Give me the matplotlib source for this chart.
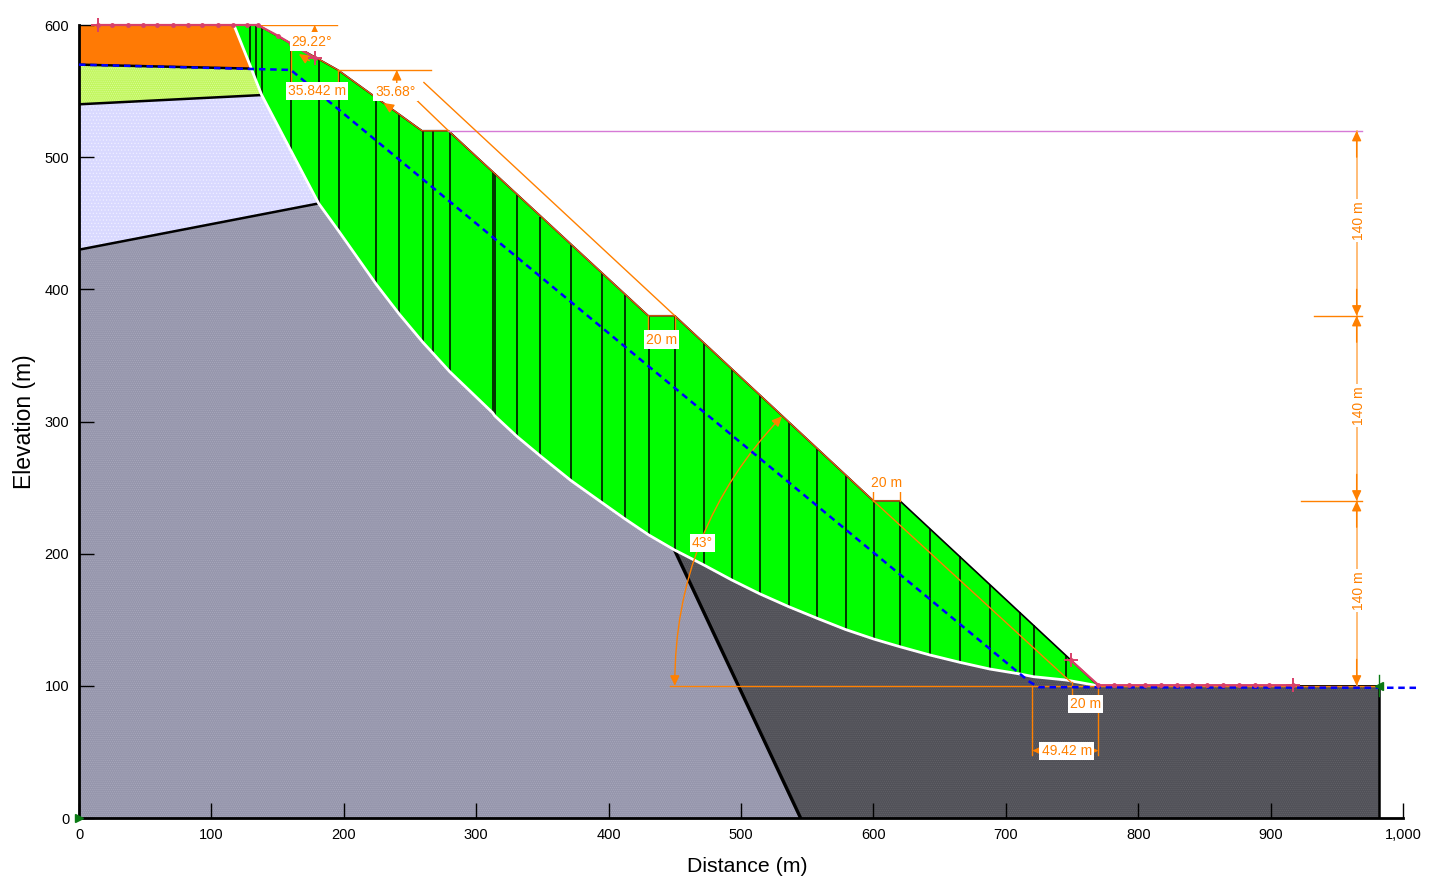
import matplotlib
matplotlib.use('Agg')
import matplotlib.pyplot as plt

plt.rcParams['font.family'] = ['Liberation Sans', 'DejaVu Sans']
plt.rcParams['hatch.linewidth'] = 0.5

# ground surface
ground_x = [0, 135, 160, 195.5, 259, 279, 430, 450, 600, 620, 770, 982]
ground_y = [600, 600, 586, 566, 520, 520, 380, 380, 240, 240, 100, 100]

# slices of the sliding mass
slice_x = [117, 129, 133.6, 138, 160, 181, 196, 224.5, 242, 260, 267, 280, 312.4, 314.1, 331, 348.5, 371.7, 395,
           412.5, 430.4, 449.8, 472, 493, 514.4, 536, 557.5, 579, 600.3, 620, 642.8, 665.2, 688, 710.5, 721, 745.5, 770]
slice_top = [600, 600, 600, 598, 586, 574.5, 566, 545, 532.5, 520, 520, 520, 489, 488, 471.5, 455, 433.5, 412,
             395.5, 380, 380, 359.5, 340, 320, 299.5, 279.5, 259.5, 240, 240, 219, 198, 176.5, 155.5, 145.7, 122.9, 100]
slice_bot = [600, 570, 558, 547, 505, 465, 444.3, 403.8, 381.1, 359.6, 352, 337.7, 306.6, 304.2, 288.5, 273.9, 255.2, 238.6,
             226.2, 214.1, 202.8, 191.4, 180.1, 169.5, 159.9, 151.1, 142.6, 135.4, 129.6, 123.3, 117.8, 112.7, 109, 106.9, 104.4, 100]

# soil layers
orange_x = [0, 117, 130, 0]
orange_y = [600, 600, 567, 570]
lime_x = [0, 130, 138, 0]
lime_y = [570, 567, 547, 540]
lav_x = [0, 138, 181, 0]
lav_y = [540, 547, 465, 430]
rock_x = [449.8, 545]
rock_y = [202.8, 0]

# water table
water_x = [0, 160, 718, 725, 1013]
water_y = [570, 566, 103, 99, 98.5]

# entry and exit ranges
entry_x = [14, 25, 37, 48, 59, 71, 82, 93, 105, 116, 127, 135, 150, 160, 178]
entry_y = [600, 600, 600, 600, 600, 600, 600, 600, 600, 600, 600, 600, 592, 586, 575]
exit_x = [749, 770, 782, 793, 805, 817, 829, 841, 852, 864, 876, 888, 899, 917]
exit_y = [119.5, 100.5, 100.5, 100.5, 100.5, 100.5, 100.5, 100.5, 100.5, 100.5, 100.5, 100.5, 100.5, 100.5]

x_ticks = [0, 100, 200, 300, 400, 500, 600, 700, 800, 900, 1000]
x_labels = ['0', '100', '200', '300', '400', '500', '600', '700', '800', '900', '1,000']
y_ticks = [0, 100, 200, 300, 400, 500, 600]

ORANGE = '#ff8000'
PINK = '#d8406a'

fig = plt.figure(figsize=(14.38, 8.94), dpi=100)
ax = fig.add_axes([79 / 1438, 1 - 818 / 894, 1324 / 1438, 793 / 894])
ax.set_xlim(0, 1000)
ax.set_ylim(0, 600)

def layer(xs, ys, color, dots=None, hatch=None):
    ax.fill(xs, ys, facecolor=color, edgecolor=dots or color, hatch=hatch, linewidth=0, zorder=1)

n_grey = slice_x.index(181)
n_toe = slice_x.index(449.8)
layer(orange_x, orange_y, '#ff7a05')
layer(lime_x, lime_y, '#c2f75f', '#dcfc9c', '.' * 8)
layer(lav_x, lav_y, '#d9d9ff', '#f0f0ff', '.' * 5)
layer([0] + slice_x[n_grey:n_toe + 1] + rock_x[1:] + [0], [430] + slice_bot[n_grey:n_toe + 1] + rock_y[1:] + [0],
      '#9696ac', '#a8a8bc', '.' * 8)
layer(slice_x[n_toe:] + [982, 982] + rock_x[1:], slice_bot[n_toe:] + [100, 0] + rock_y[1:],
      '#515158', '#626268', '.' * 8)
ax.fill_between(slice_x, slice_bot, slice_top, color='#00ff00', linewidth=0, zorder=2)

# boundaries between layers
ax.plot([0, 130], [570, 567], color='black', lw=1.8, zorder=3)
ax.plot([0, 138], [540, 547], color='black', lw=1.8, zorder=3)
ax.plot([0, 181], [430, 465], color='black', lw=1.8, zorder=3)
ax.plot(rock_x, rock_y, color='black', lw=2.4, zorder=3)
ax.plot([982, 982], [0, 100], color='black', lw=1.8, zorder=3)

ax.vlines(slice_x[1:-1], slice_bot[1:-1], slice_top[1:-1], color='black', lw=1.1, zorder=3)
ax.plot(slice_x, slice_bot, color='white', lw=2, zorder=4)
ax.plot(ground_x, ground_y, color='black', lw=1.2, zorder=4)
ax.plot(ground_x[1:10], ground_y[1:10], color='#f05a14', lw=0.9, zorder=5)

# dimension lines
thin = dict(color=ORANGE, lw=1, zorder=6)
ax.plot([135, 195], [600, 600], **thin)
ax.plot([195.5, 266], [566, 566], **thin)
ax.plot([279, 969], [520, 520], color='#d67ad6', lw=1, zorder=6)
ax.plot([260.5, 449.5], [556.5, 380.5], **thin)
ax.plot([253.6, 279], [544.5, 520], **thin)
ax.plot([600, 749], [240, 103], **thin)
ax.plot([446, 982], [100, 100], **thin)
ax.plot([160, 160], [586, 553], **thin)
ax.plot([195.5, 195.5], [566, 553], **thin)
ax.plot([430, 430], [380, 362], **thin)
ax.plot([450, 450], [380, 362], **thin)
ax.plot([600, 600], [240, 256], **thin)
ax.plot([620, 620], [240, 256], **thin)
ax.plot([750, 750], [103, 88], **thin)
ax.plot([770, 770], [100, 48], **thin)
ax.plot([720, 720], [100, 48], **thin)
ax.plot([965, 965], [100, 520], color='#ffb060', lw=1.2, zorder=6)
ax.plot([933, 969], [380, 380], **thin)
ax.plot([923, 969], [240, 240], **thin)

head = 'head_length=0.6,head_width=0.28'

def arrow(x0, y0, x1, y1):
    ax.annotate('', xy=(x1, y1), xytext=(x0, y0), zorder=7,
                arrowprops=dict(arrowstyle='-|>,' + head, color=ORANGE, lw=1, shrinkA=0, shrinkB=0))

# 43 degree arc, arrow at both ends
ax.annotate('', xy=(531, 304), xytext=(450, 100), zorder=7,
            arrowprops=dict(arrowstyle='<|-|>,' + head, color=ORANGE, lw=1, shrinkA=0, shrinkB=0,
                            connectionstyle='arc3,rad=-0.2'))

arrow(965, 500, 965, 520)
arrow(965, 400, 965, 380)
arrow(965, 360, 965, 380)
arrow(965, 260, 965, 240)
arrow(965, 220, 965, 240)
arrow(965, 120, 965, 100)
arrow(735, 51, 720, 51)
arrow(755, 51, 770, 51)
arrow(178, 591, 178, 600)
arrow(174, 573, 166, 578)
arrow(240, 556, 240, 566)
arrow(236, 537, 230, 541)

# labels in white boxes
def label(x, y, s, rotation=0):
    ax.text(x, y, s, color=ORANGE, fontsize=10, ha='center', va='center', rotation=rotation, zorder=9,
            bbox=dict(facecolor='white', edgecolor='none', pad=1.5))

label(176, 587.5, '29.22°')
label(180, 550, '35.842 m')
label(239, 549.5, '35.68°')
label(440, 362, '20 m')
label(610, 253.5, '20 m')
label(760, 86, '20 m')
label(746, 50.5, '49.42 m')
label(471, 208, '43°')
label(966.5, 452, '140 m', 90)
label(966.5, 312, '140 m', 90)
label(966.5, 172, '140 m', 90)

# water table and ranges
ax.plot(water_x, water_y, color='#0000ff', lw=1.8, ls=(0, (2.6, 1.9)), zorder=8, clip_on=False)
ax.plot(entry_x, entry_y, color=PINK, lw=1.6, zorder=8, marker='o', ms=2.5, clip_on=False)
ax.plot(exit_x, exit_y, color=PINK, lw=1.6, zorder=8, marker='o', ms=2.5)
ax.plot([14, 178, 749, 917], [600, 575, 119.5, 100.5], ls='none', marker='+', ms=10, mew=1.4, color=PINK, zorder=8,
        clip_on=False)
ax.plot([982], [100], ls='none', marker='<', ms=6, color='#0a7a14', zorder=8, clip_on=False)
ax.plot([0], [0], ls='none', marker='>', ms=6, color='#0a7a14', zorder=8, clip_on=False)
ax.plot([982, 982], [92, 108], color='#0a7a14', lw=1, zorder=8)

for side in ['top', 'right']:
    ax.spines[side].set_visible(False)
ax.spines['left'].set_linewidth(2)
ax.spines['bottom'].set_linewidth(2)
ax.set_xticks(x_ticks)
ax.set_xticklabels(x_labels)
ax.set_yticks(y_ticks)
ax.tick_params(direction='in', length=11, width=1, labelsize=10.5)
ax.tick_params(axis='x', pad=7)
ax.tick_params(axis='y', pad=7)
for sp in ax.spines.values():
    sp.set_zorder(5)
ax.set_axisbelow(False)
ax.set_xlabel('Distance (m)', fontsize=15.3, labelpad=11, x=0.505)
ax.set_ylabel('Elevation (m)', fontsize=16.5, labelpad=6)

fig.savefig('out.png', dpi=100)
